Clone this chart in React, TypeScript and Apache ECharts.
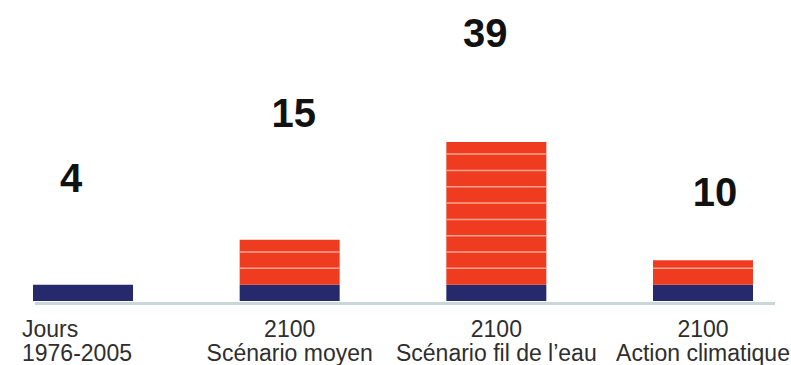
import React, { useEffect, useRef } from "react";
import * as echarts from "echarts";

// Days per year above the threshold, historical reference and 2100 scenarios
const categories = [
  "Jours\n1976-2005",
  "2100\nScénario moyen",
  "2100\nScénario fil de l’eau",
  "2100\nAction climatique",
];
const totalDays = [4, 15, 39, 10];
// Historical reference level, drawn in navy at the foot of every bar
const baselineDays = 4;
// Each stacked block stands for this many days
const blockDays = 4;

// Layout of the value labels above the bars (pixels)
const labelLift = [107, 127, 109, 68];
const labelShift = [-12, 4, -11, 12];

const NAVY = "#262a6c";
const RED = "#ef3c20";
const SEPARATOR = "#f6a48e";
const BAR_WIDTH = 100;
const FONT = "Liberation Sans, Arial, sans-serif";

export default function App() {
  const ref = useRef<HTMLDivElement>(null);

  useEffect(() => {
    if (!ref.current) return;
    const chart = echarts.init(ref.current, null, { renderer: "svg" });

    const renderItem = (params: any, api: any) => {
      const idx = api.value(0);
      const total = api.value(1);
      const [cx, yTop] = api.coord([idx, total]);
      const [, yZero] = api.coord([idx, 0]);
      const [, yRef] = api.coord([idx, Math.min(total, baselineDays)]);
      const x0 = cx - BAR_WIDTH / 2;
      const children: any[] = [];

      children.push({
        type: "rect",
        shape: { x: x0, y: yRef, width: BAR_WIDTH, height: yZero - yRef },
        style: { fill: NAVY },
      });

      if (total > baselineDays) {
        children.push({
          type: "rect",
          shape: { x: x0, y: yTop, width: BAR_WIDTH, height: yRef - yTop },
          style: { fill: RED },
        });
        for (let d = baselineDays + blockDays; d < total; d += blockDays) {
          const [, ys] = api.coord([idx, d]);
          children.push({
            type: "line",
            shape: { x1: x0, y1: ys, x2: x0 + BAR_WIDTH, y2: ys },
            style: { stroke: SEPARATOR, lineWidth: 1.5 },
          });
        }
      }

      children.push({
        type: "text",
        x: cx + labelShift[idx],
        y: yTop - labelLift[idx],
        style: {
          text: String(total),
          fill: "#111111",
          fontSize: 40,
          fontWeight: "bold",
          fontFamily: FONT,
          align: "center",
          verticalAlign: "middle",
        },
      });

      return { type: "group", children };
    };

    chart.setOption({
      animation: false,
      grid: { left: 83, right: 88, top: 97, bottom: 64, outerBoundsMode: "none", containLabel: false },
      xAxis: {
        type: "category",
        data: categories,
        boundaryGap: false,
        axisLine: { show: false },
        axisTick: { show: false },
        axisLabel: {
          margin: 16,
          color: "#2e2e2e",
          fontSize: 23,
          lineHeight: 24,
          fontFamily: FONT,
          interval: 0,
          formatter: (value: string, index: number) => {
            if (index !== 0) return value;
            return value
              .split("\n")
              .map((line) => `{first|${line}}`)
              .join("\n");
          },
          rich: {
            first: {
              width: 122,
              align: "left",
              color: "#2e2e2e",
              fontSize: 23,
              lineHeight: 24,
              fontFamily: FONT,
            },
          },
        },
      },
      yAxis: {
        type: "value",
        min: 0,
        max: 50,
        show: false,
        splitLine: { show: false },
      },
      graphic: [
        {
          type: "rect",
          left: 35,
          top: 302,
          shape: { width: 740, height: 3 },
          style: { fill: "#c9d7d9" },
          z: 0,
        },
      ],
      series: [
        {
          type: "custom",
          renderItem,
          encode: { x: 0, y: 1 },
          data: totalDays.map((v, i) => [i, v]),
          clip: false,
          z: 2,
        },
      ],
    });

    return () => chart.dispose();
  }, []);

  return (
    <div
      ref={ref}
      style={{ position: "fixed", left: 0, top: 0, width: 791, height: 365, background: "#ffffff" }}
    />
  );
}
